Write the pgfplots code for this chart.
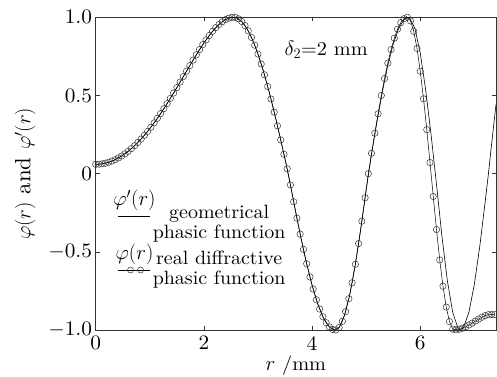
\documentclass[border=0pt]{standalone}
\usepackage{fontspec}
\setmainfont{lmroman10-regular.otf}[FakeStretch=1.04, ItalicFont=lmroman10-italic.otf, BoldFont=lmroman10-bold.otf]
\usepackage{pgfplots}
\pgfplotsset{compat=1.18}
\begin{document}
\begin{tikzpicture}
\begin{axis}[
 scale only axis, width=400.3pt, height=312.7pt,
 xmin=0, xmax=7.4, ymin=-1, ymax=1,
 xtick={0,2,4,6}, xticklabels={0,2,4,6},
 ytick={-1,-0.5,0,0.5,1}, yticklabels={$-$1.0,$-$0.5,0,0.5,1.0},
 /pgf/number format/assume math mode=true,
 tick align=inside, major tick length=4pt,
 axis line style={black!80, line width=0.8pt}, tick style={black!80, line width=0.6pt},
 tick label style={font=\fontsize{20.5}{20}\selectfont},
 xticklabel style={inner sep=6pt}, yticklabel style={inner sep=3.5pt},
 xlabel={$r$ /mm}, ylabel={$\varphi(r)$ and $\varphi'(r)$},
 xlabel style={font=\fontsize{19.5}{20}\selectfont, at={(axis description cs:0.5,-0.114)}, anchor=center},
 ylabel style={font=\fontsize{22}{22}\selectfont, at={(axis description cs:-0.176,0.5)}, anchor=center},
 legend style={draw=none, fill=none, inner sep=0pt, at={(axis description cs:0.0557,0.403)}, anchor=north west,
   font=\fontsize{19.2}{20}\selectfont, nodes={align=center, inner sep=1pt}, row sep=8.5pt, column sep=1pt},
]
\addplot[black, line width=0.6pt,
 legend image code/.code={\draw[black, line width=0.6pt] (0pt,6pt) -- (32pt,6pt);
   \node[overlay, anchor=base, inner sep=0pt] at (16pt,17pt) {$\varphi'(r)$};}]
coordinates {(0,0.0597)(0.1,0.0619)(0.2,0.0689)(0.3,0.0805)(0.4,0.0967)(0.5,0.1175)(0.6,0.1428)(0.7,0.1726)(0.8,0.2069)(0.9,0.2455)(1.0,0.2879)(1.1,0.3343)(1.2,0.3841)(1.3,0.4371)(1.4,0.4927)(1.5,0.5502)(1.6,0.6088)(1.7,0.6678)(1.8,0.7262)(1.9,0.7824)(2.0,0.8356)(2.1,0.8841)(2.2,0.9263)(2.3,0.9606)(2.4,0.9852)(2.5,0.9983)(2.55,1.0)(2.6,0.9970)(2.7,0.9729)(2.8,0.9254)(2.9,0.8555)(3.0,0.7648)(3.1,0.6558)(3.2,0.5311)(3.3,0.3934)(3.4,0.2463)(3.5,0.0932)(3.6,-0.0722)(3.7,-0.2501)(3.8,-0.4199)(3.9,-0.5760)(4.0,-0.7134)(4.1,-0.8276)(4.2,-0.9150)(4.3,-0.9726)(4.4,-0.9985)(4.43,-1.0)(4.5,-0.9838)(4.6,-0.9057)(4.7,-0.7681)(4.8,-0.5795)(4.9,-0.3527)(5.0,-0.1028)(5.1,0.1270)(5.2,0.3331)(5.3,0.5244)(5.4,0.6920)(5.5,0.8285)(5.6,0.9279)(5.7,0.9856)(5.78,1.0)(5.8,0.9980)(5.9,0.9298)(6.0,0.7705)(6.1,0.5358)(6.2,0.2487)(6.3,-0.0682)(6.4,-0.3984)(6.5,-0.6827)(6.6,-0.8879)(6.7,-0.9907)(6.74,-1.0)(6.8,-0.9836)(6.9,-0.8855)(7.0,-0.7071)(7.1,-0.4647)(7.2,-0.1802)(7.26,0.0)(7.3,0.1305)(7.4,0.4423)};
\addlegendentry{geometrical\\phasic function}
\addplot[black, line width=0.5pt, mark=o, mark size=3.2pt, mark options={black!80, line width=0.5pt},
 legend image code/.code={\draw[black, line width=0.6pt] (0pt,-2pt) -- (32pt,-2pt);
   \draw[black!80, line width=0.5pt] (12pt,-2pt) circle (3pt);
   \draw[black!80, line width=0.5pt] (22pt,-2pt) circle (3pt);
   \node[overlay, anchor=base, inner sep=0pt] at (16pt,9pt) {$\varphi(r)$};}]
coordinates {(0,0.0597)(0.06,0.0605)(0.12,0.0630)(0.18,0.0671)(0.24,0.0731)(0.30,0.0805)(0.36,0.0896)(0.42,0.1005)(0.48,0.1130)(0.54,0.1271)(0.60,0.1428)(0.66,0.1602)(0.72,0.1791)(0.78,0.1997)(0.84,0.2217)(0.90,0.2455)(0.96,0.2704)(1.02,0.2969)(1.08,0.3247)(1.14,0.3538)(1.20,0.3841)(1.26,0.4156)(1.32,0.4480)(1.38,0.4815)(1.44,0.5155)(1.50,0.5502)(1.56,0.5855)(1.62,0.6207)(1.68,0.6561)(1.74,0.6915)(1.80,0.7262)(1.86,0.7603)(1.92,0.7934)(1.98,0.8253)(2.04,0.8556)(2.10,0.8841)(2.16,0.9103)(2.22,0.9338)(2.28,0.9545)(2.34,0.9717)(2.40,0.9852)(2.46,0.9945)(2.52,0.9994)(2.58,0.9989)(2.64,0.9902)(2.70,0.9729)(2.76,0.9471)(2.82,0.9131)(2.88,0.8712)(2.94,0.8216)(3.00,0.7648)(3.06,0.7014)(3.12,0.6322)(3.18,0.5573)(3.24,0.4774)(3.30,0.3934)(3.36,0.3061)(3.42,0.2160)(3.48,0.1241)(3.54,0.0311)(3.60,-0.0722)(3.66,-0.1796)(3.72,-0.2849)(3.78,-0.3868)(3.84,-0.4843)(3.90,-0.5760)(3.96,-0.6608)(4.02,-0.7382)(4.08,-0.8069)(4.14,-0.8660)(4.20,-0.9150)(4.26,-0.9533)(4.32,-0.9803)(4.38,-0.9959)(4.44,-0.9997)(4.50,-0.9838)(4.56,-0.9445)(4.62,-0.8827)(4.68,-0.7998)(4.74,-0.6980)(4.80,-0.5795)(4.86,-0.4472)(4.92,-0.3041)(4.98,-0.1539)(5.04,0.0)(5.10,0.1305)(5.16,0.2588)(5.22,0.3827)(5.28,0.5)(5.34,0.6088)(5.40,0.7071)(5.46,0.7934)(5.52,0.8660)(5.58,0.9239)(5.64,0.9659)(5.70,0.9914)(5.76,1.0)(5.82,0.9771)(5.88,0.9096)(5.94,0.8006)(6.00,0.6547)(6.06,0.4792)(6.12,0.2817)(6.18,0.0713)(6.24,-0.1456)(6.30,-0.3572)(6.36,-0.5518)(6.42,-0.7199)(6.48,-0.8535)(6.54,-0.9465)(6.60,-0.9940)(6.66,-0.999)(6.72,-0.995)(6.78,-0.988)(6.84,-0.979)(6.90,-0.968)(6.96,-0.956)(7.02,-0.943)(7.08,-0.930)(7.14,-0.918)(7.20,-0.908)(7.26,-0.902)(7.32,-0.900)(7.38,-0.902)};
\addlegendentry{real diffractive\\phasic function}
\node[font=\fontsize{19.5}{20}\selectfont] at (axis cs:4.26,0.79) {$\delta_2$=2 mm};
\end{axis}
\pgfresetboundingbox
\path[use as bounding box] (-95.7pt,-46pt) rectangle (401.3pt,330pt);
\end{tikzpicture}
\end{document}
